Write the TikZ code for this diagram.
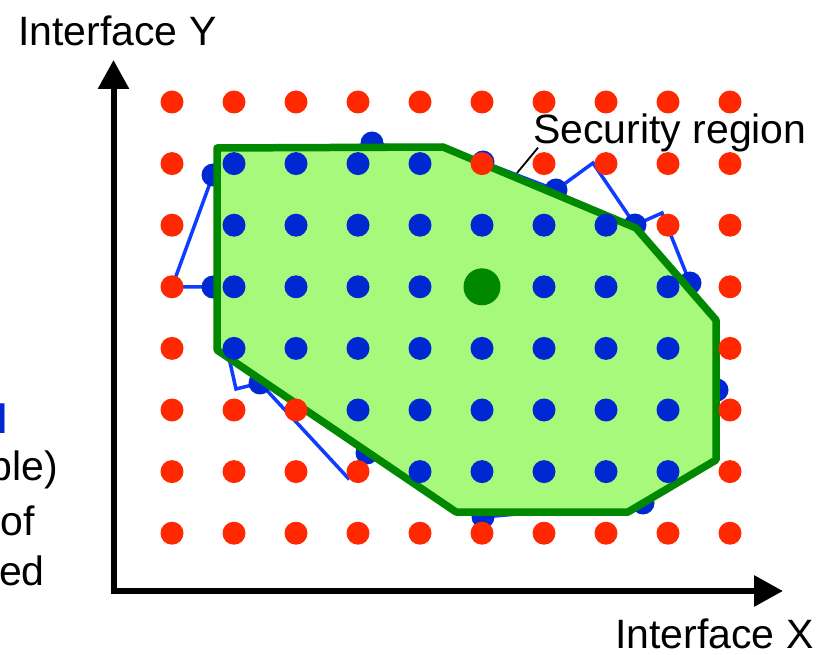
\documentclass[tikz,border=0pt]{standalone}
\usepackage{fontspec}
\setmainfont{Liberation Sans}
\usetikzlibrary{arrows.meta}

\definecolor{redpt}{RGB}{255,40,0}
\definecolor{bluept}{RGB}{0,40,210}
\definecolor{blueline}{RGB}{15,60,255}
\definecolor{regionfill}{RGB}{166,249,122}
\definecolor{regionedge}{RGB}{0,136,0}

\begin{document}
\begin{tikzpicture}[
    x=1pt, y=-1pt,
    dot/.style={circle, inner sep=0pt, minimum size=23pt},
    center dot/.style={circle, inner sep=0pt, minimum size=37pt, fill=regionedge},
    region/.style={fill=regionfill, draw=regionedge, line width=7.5pt, line join=round},
    boundary/.style={draw=blueline, line width=3.5pt, line join=miter},
    axis/.style={line width=6pt, line join=miter, {Triangle[length=29pt,width=30pt]}-{Triangle[length=29pt,width=30pt]}},
    label/.style={inner sep=0pt, font=\fontsize{41}{50}\selectfont}
]
\useasboundingbox (0,0) rectangle (823,655);

% approximated boundary (under the region)
\coordinate (b1) at (213,175);
\coordinate (b2) at (372,143);
\coordinate (b3) at (483,162);
\coordinate (b4) at (556,190);
\coordinate (b5) at (593,163);
\coordinate (b6) at (635,225);
\coordinate (b7) at (662,213);
\coordinate (b8) at (690,283);
\coordinate (b9) at (717,390);
\coordinate (b10) at (643,503);
\coordinate (b11) at (483,517);
\coordinate (b12) at (367,453);
\coordinate (b13) at (348,478);
\coordinate (b14) at (260,383);
\coordinate (b15) at (236,389);
\coordinate (b17) at (213,287);
\coordinate (b18) at (172,287);
\draw[boundary] (b1) -- (b2) -- (b3) -- (b4) -- (b5) -- (b6) -- (b7) -- (b8) -- (b9)
    -- (b10) -- (b11) -- (b12) -- (b13) -- (b14) -- (b15) -- (b17) -- (b18) -- cycle;
\foreach \b in {b1,b2,b3,b4,b6,b8,b9,b10,b11,b12,b14,b17}
    \node[dot, fill=bluept] (dot-\b) at (\b) {};

% security region
\draw[region] (217,148) -- (443,147) -- (636,228) -- (716,320) -- (716,460)
    -- (628,512) -- (456,512) -- (217,350) -- cycle;

% operating points
\foreach \j/\lo/\hi in {0/99/99, 1/1/4, 2/1/7, 3/1/8, 4/1/8, 5/3/8, 6/4/8, 7/99/99}{
    \foreach \i in {0,...,9}{
        \def\dotcol{redpt}
        \ifnum\i<\lo\else\ifnum\i>\hi\else\def\dotcol{bluept}\fi\fi
        \node[dot, fill=\dotcol] (p-\i-\j) at ({172+62*\i},{102+61.6*\j}) {};
    }
}
\node[center dot] (base) at (p-5-3) {};

% axes
\coordinate (origin) at (113.5,591);
\coordinate (ytip) at (113.5,60);
\coordinate (xtip) at (783,591);
\draw[axis] (ytip) -- (origin) -- (xtip);

\node[label, anchor=base west] (ylabel) at (18,46) {Interface Y};
\node[label, anchor=base west] (xlabel) at (615,648) {Interface X};
\node[label, anchor=base west] (seclabel) at (533,144) {Security region};
\coordinate (secpt) at (517,173);
\draw[line width=1.8pt] ([xshift=5pt,yshift=5pt]seclabel.south west) -- (secpt);

\node[label, anchor=base east, text=bluept, font=\fontsize{41}{50}\selectfont\bfseries] (leg1) at (8,433) {l};
\node[label, anchor=base east] (leg2) at (58,480) {ble)};
\node[label, anchor=base east] (leg3) at (35,535) {of};
\node[label, anchor=base east] (leg4) at (45,585) {ed};
\end{tikzpicture}
\end{document}
